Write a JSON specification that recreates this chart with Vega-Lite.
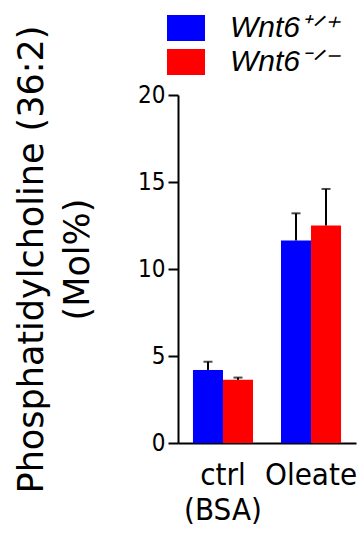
{
  "$schema": "https://vega.github.io/schema/vega-lite/v6.json",
  "width": 178,
  "height": 348,
  "autosize": {"type": "none"},
  "padding": {"left": 178, "top": 95, "right": 4, "bottom": 94},
  "background": "white",
  "config": {
    "view": {"stroke": null},
    "axis": {
      "domainColor": "black",
      "domainWidth": 2,
      "tickColor": "black",
      "tickWidth": 2,
      "tickSize": 10,
      "labelColor": "black",
      "grid": false
    }
  },
  "data": {
    "values": [
      {"treatment": "ctrl (BSA)", "genotype": "Wnt6+/+", "mean": 4.2, "upper": 4.67},
      {"treatment": "ctrl (BSA)", "genotype": "Wnt6-/-", "mean": 3.63, "upper": 3.76},
      {"treatment": "Oleate", "genotype": "Wnt6+/+", "mean": 11.64, "upper": 13.2},
      {"treatment": "Oleate", "genotype": "Wnt6-/-", "mean": 12.5, "upper": 14.6}
    ]
  },
  "encoding": {
    "x": {
      "field": "treatment",
      "type": "nominal",
      "sort": ["ctrl (BSA)", "Oleate"],
      "scale": {"paddingInner": 0.318, "paddingOuter": 0.17},
      "axis": {
        "title": null,
        "labelAngle": 0,
        "ticks": false,
        "tickSize": 0,
        "labelFont": "DejaVu Sans Condensed",
        "labelFontSize": 31,
        "labelPadding": 17,
        "labelLineHeight": 35,
        "labelExpr": "datum.value == 'ctrl (BSA)' ? ['ctrl', '(BSA)'] : datum.value"
      }
    },
    "xOffset": {
      "field": "genotype",
      "type": "nominal",
      "sort": ["Wnt6+/+", "Wnt6-/-"],
      "scale": {"paddingInner": 0, "paddingOuter": 0}
    }
  },
  "layer": [
    {
      "mark": {"type": "bar"},
      "encoding": {
        "y": {
          "field": "mean",
          "type": "quantitative",
          "scale": {"domain": [0, 20], "nice": false},
          "axis": {
            "values": [0, 5, 10, 15, 20],
            "labelFont": "DejaVu Sans Condensed",
            "labelFontSize": 24,
            "labelPadding": 3,
            "title": ["Phosphatidylcholine (36:2)", "(Mol%)"],
            "titleFont": "DejaVu Sans",
            "titleFontWeight": "normal",
            "titleFontSize": 35,
            "titleColor": "black",
            "titleLineHeight": 46,
            "titleLimit": 1000,
            "titleX": -129,
            "titleY": 164,
            "titleAngle": 270,
            "titleBaseline": "bottom",
            "titleAlign": "center"
          }
        },
        "color": {
          "field": "genotype",
          "type": "nominal",
          "sort": ["Wnt6+/+", "Wnt6-/-"],
          "scale": {"domain": ["Wnt6+/+", "Wnt6-/-"], "range": ["#0000ff", "#ff0000"]},
          "legend": {
            "orient": "none",
            "legendX": -11,
            "legendY": -86,
            "title": null,
            "padding": 0,
            "symbolType": "M-1,-0.684H1V0.684H-1Z",
            "symbolSize": 1444,
            "symbolStrokeWidth": 0,
            "symbolOpacity": 1,
            "labelFont": "Liberation Sans",
            "labelFontStyle": "italic",
            "labelFontSize": 30,
            "labelColor": "black",
            "labelOffset": 25,
            "rowPadding": -11,
            "labelExpr": "datum.value == 'Wnt6+/+' ? 'Wnt6⁺ᐟ⁺' : 'Wnt6⁻ᐟ⁻'"
          }
        }
      }
    },
    {
      "mark": {"type": "rule", "color": "black", "strokeWidth": 2},
      "encoding": {
        "y": {"field": "mean", "type": "quantitative"},
        "y2": {"field": "upper"}
      }
    },
    {
      "mark": {"type": "tick", "color": "black", "thickness": 2, "size": 9},
      "encoding": {
        "y": {"field": "upper", "type": "quantitative"}
      }
    }
  ]
}
